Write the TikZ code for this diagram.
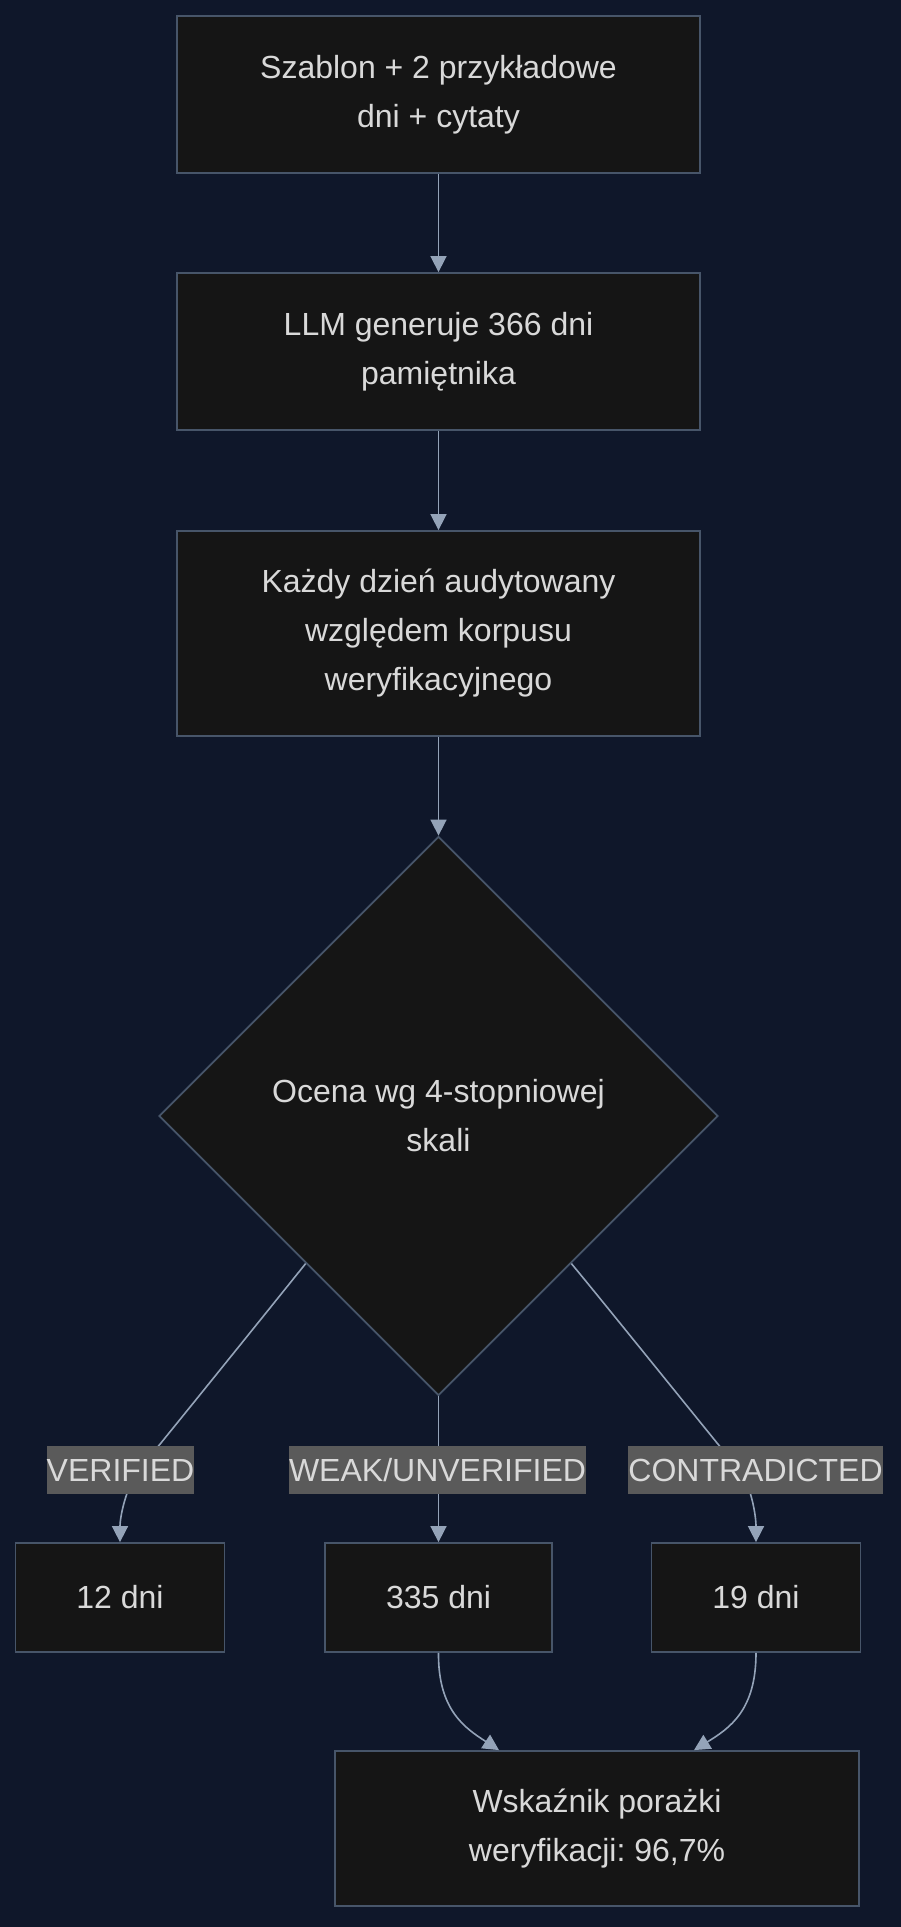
\documentclass[tikz,border=0pt]{standalone}
\usepackage{fontspec}
\setmainfont{Liberation Sans}
\frenchspacing
\usetikzlibrary{shapes.geometric}
\usetikzlibrary{arrows.meta}
\definecolor{bgcol}{HTML}{0F172A}
\definecolor{nodecol}{HTML}{151515}
\definecolor{edgecol}{HTML}{475569}
\definecolor{linecol}{HTML}{94A3B8}
\definecolor{txtcol}{HTML}{D9D9D9}
\definecolor{tagcol}{HTML}{5A5A5A}
\begin{document}
\begin{tikzpicture}[x=0.5pt,y=-0.5pt,
stage/.style={draw=edgecol, fill=nodecol, line width=0.9pt, text=txtcol, align=center,
  inner sep=0pt, font=\fontsize{16}{24.5}\selectfont},
check/.style={stage, diamond, aspect=1, minimum width=279.5pt, minimum height=279.5pt},
tag/.style={fill=tagcol, text=txtcol, inner xsep=0pt, inner ysep=0pt, minimum height=24pt,
  font=\fontsize{16}{24.5}\selectfont},
flow/.style={draw=linecol, line width=0.8pt, -{Triangle[length=8pt,width=8pt]}}]
\useasboundingbox (0,0) rectangle (900,1927);
\fill[bgcol] (-10,-10) rectangle (910,1937);
\node[stage, minimum width=261.5pt, minimum height=78.5pt] (szablon) at (438.5,94.5) {Szablon + 2 przykładowe\\dni + cytaty};
\node[stage, minimum width=261.5pt, minimum height=78.5pt] (llm) at (438.5,351.5) {LLM generuje 366 dni\\pamiętnika};
\node[stage, minimum width=261.5pt, minimum height=102.5pt] (audyt) at (438.5,633.5) {Każdy dzień audytowany\\względem korpusu\\weryfikacyjnego};
\node[check] (ocena) at (438.5,1116) {Ocena wg 4-stopniowej\\skali};
\node[stage, minimum width=104.5pt, minimum height=54.5pt] (d12) at (120,1597.5) {12 dni};
\node[stage, minimum width=113.5pt, minimum height=54.5pt] (d335) at (438.5,1597.5) {335 dni};
\node[stage, minimum width=104.5pt, minimum height=54.5pt] (d19) at (756,1597.5) {19 dni};
\node[stage, minimum width=262pt, minimum height=77.5pt] (wynik) at (597,1828.5) {Wskaźnik porażki\\weryfikacji: 96,7\%};
\coordinate (kv) at (139,1470);
\coordinate (kc) at (739,1470);
\draw[flow] (szablon.south) -- (llm.north);
\draw[flow] (llm.south) -- (audyt.north);
\draw[flow] (audyt.south) -- (ocena.north);
\draw[flow] (ocena.228) .. controls (278,1298) and (200,1395) .. (kv)
  .. controls (127,1485) and (120,1515) .. (d12.north);
\draw[flow] (ocena.south) -- (d335.north);
\draw[flow] (ocena.312) .. controls (600,1298) and (678,1395) .. (kc)
  .. controls (751,1485) and (756,1515) .. (d19.north);
\draw[flow] (d335.south) .. controls (438,1710) and (465,1728) .. ([xshift=-49pt]wynik.north);
\draw[flow] (d19.south) .. controls (756,1710) and (730,1728) .. ([xshift=48.5pt]wynik.north);
\node[tag] (lv) at (120.5,1470) {VERIFIED};
\node[tag] (lw) at (437.5,1470) {WEAK/UNVERIFIED};
\node[tag] (lc) at (755.5,1470) {CONTRADICTED};
\end{tikzpicture}
\end{document}
